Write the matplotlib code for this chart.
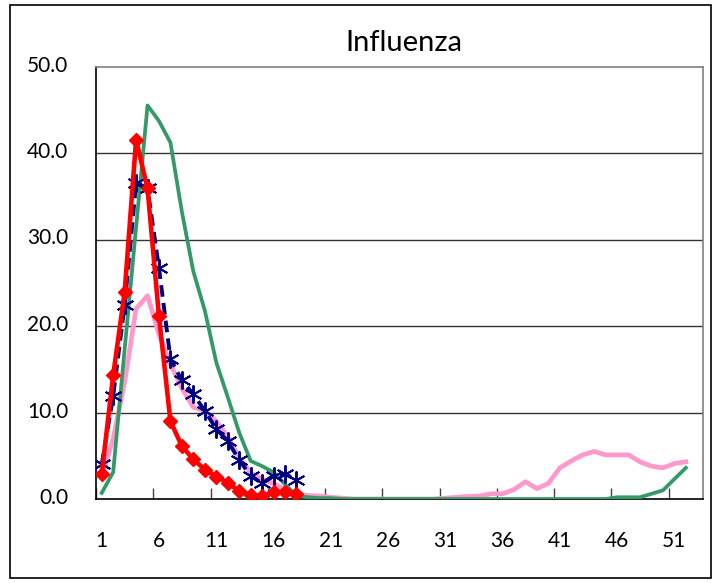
import numpy as np
import matplotlib
matplotlib.use("Agg")
import matplotlib.pyplot as plt
import matplotlib.transforms as mtransforms
from matplotlib.patches import Rectangle

plt.rcParams['font.family'] = ['Lato', 'DejaVu Sans']

# weekly values, week 1..52
green = [0.7, 3.1, 17.3, 31.4, 45.5, 43.7, 41.2, 33.2, 26.3, 21.8,
         15.8, 11.8, 7.7, 4.4, 3.8, 3.1, 1.7, 0.4, 0.2, 0.1,
         0.1, 0.0, 0.0, 0.0, 0.0, 0.0, 0.0, 0.0, 0.0, 0.0,
         0.0, 0.0, 0.0, 0.0, 0.0, 0.0, 0.0, 0.0, 0.0, 0.0,
         0.0, 0.0, 0.0, 0.0, 0.0, 0.2, 0.2, 0.2, 0.6, 1.0,
         2.3, 3.6]
pink = [2.5, 7.0, 13.5, 22.0, 23.5, 19.0, 15.6, 12.8, 10.6, 10.2,
        9.0, 7.2, 4.8, 3.0, 2.3, 1.8, 1.1, 0.6, 0.4, 0.35,
        0.2, 0.1, 0.0, 0.0, 0.0, 0.0, 0.0, 0.0, 0.0, 0.0,
        0.1, 0.2, 0.3, 0.35, 0.6, 0.6, 1.1, 2.0, 1.2, 1.8,
        3.6, 4.4, 5.1, 5.5, 5.1, 5.1, 5.1, 4.3, 3.8, 3.6,
        4.1, 4.3]
# weeks 1..18
blue = [4.0, 11.9, 22.4, 36.5, 35.9, 26.7, 16.2, 13.7, 12.1, 10.2,
        8.1, 6.7, 4.5, 2.7, 1.8, 2.7, 2.9, 2.2]
red = [2.9, 14.3, 23.9, 41.5, 35.9, 21.1, 9.0, 6.1, 4.6, 3.4,
       2.6, 1.9, 0.9, 0.5, 0.3, 0.8, 0.8, 0.6]

n_cat = 53
tick_labels = [str(w) for w in range(1, 52, 5)]

fig = plt.figure(figsize=(7.19, 5.83), dpi=100)
ax = fig.add_axes([96 / 719, 1 - 499 / 583, 607 / 719, 432.5 / 583])

weeks_full = np.arange(1, len(green) + 1)
weeks_short = np.arange(1, len(red) + 1)

ax.plot(weeks_full, pink, color='#FF99CC', lw=3.4, zorder=3)
ax.plot(weeks_full, green, color='#339966', lw=2.7, zorder=4)
ax.plot(weeks_short, blue, color='#000080', lw=2.8, ls=(0, (3, 1.6)),
        marker=(6, 2, 0), ms=13, mew=1.4, zorder=5)
ax.plot(weeks_short, red, color='#FF0000', lw=3.3, marker='D', ms=7.5,
        zorder=6)

ax.set_xlim(0.5, n_cat + 0.5)
ax.set_ylim(0, 50)

ax.set_xticks(np.arange(1, 52, 5))
ax.set_xticklabels(tick_labels)
ax.set_xticks(np.arange(0.5, 51, 5), minor=True)
ax.tick_params(axis='x', which='major', length=0, pad=23, labelsize=15)
ax.tick_params(axis='x', which='minor', direction='in', length=8,
               width=1, color='#404040')

ax.set_yticks(np.arange(0, 51, 10))
ax.set_yticklabels(['%.1f' % v for v in np.arange(0, 51, 10)])
ax.tick_params(axis='y', length=0, pad=20, labelsize=15)
offset = mtransforms.ScaledTranslation(0, 3 / 100, fig.dpi_scale_trans)
for lab in ax.get_yticklabels():
    lab.set_transform(lab.get_transform() + offset)

for v in [10, 20, 30, 40]:
    ax.axhline(v, color='#333333', lw=1, zorder=1)

ax.spines['left'].set_color('#000000')
ax.spines['bottom'].set_color('#000000')
ax.spines['top'].set_color('#808080')
ax.spines['right'].set_color('#808080')
for s in ax.spines.values():
    s.set_linewidth(1.2)
    s.set_zorder(2)

fig.text(404 / 719, 1 - 43 / 583, 'Influenza', ha='center', va='center',
         fontsize=21)

fig.patches.append(Rectangle((10 / 719, 5 / 583), 701 / 719, 573 / 583,
                             transform=fig.transFigure, fill=False,
                             edgecolor='black', lw=1.2))

fig.savefig('out.png', dpi=100)
